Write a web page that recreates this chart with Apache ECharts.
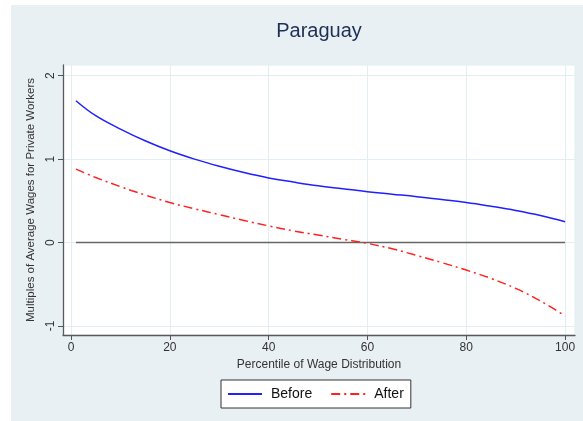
<!DOCTYPE html>
<html><head><meta charset="utf-8">
<script src="https://cdn.jsdelivr.net/npm/echarts@6/dist/echarts.min.js"></script>
<style>html,body{margin:0;padding:0;background:#fff}#c{width:583px;height:421px}</style>
</head><body><div id="c"></div>
<script>
var percentiles = [1,5,10,15,20,25,30,35,40,45,50,55,60,65,70,75,80,85,90,95,100];
var before = [1.70,1.52,1.36,1.22,1.10,1.00,0.915,0.84,0.775,0.725,0.68,0.645,0.61,0.58,0.55,0.515,0.48,0.435,0.385,0.325,0.25];
var after = [0.88,0.78,0.67,0.57,0.48,0.405,0.335,0.265,0.20,0.14,0.09,0.04,-0.01,-0.075,-0.155,-0.24,-0.33,-0.43,-0.55,-0.70,-0.88];
var zeroLine = [[1,0],[100,0]];
var xTicks = [0,20,40,60,80,100];
var yTicks = [-1,0,1,2];

function pairs(xs, ys){ return xs.map(function(x,i){ return [x, ys[i]]; }); }

var chart = echarts.init(document.getElementById('c'), null, {renderer:'canvas'});
var font = 'Liberation Sans, Arial, sans-serif';
chart.setOption({
  animation:false,
  backgroundColor:'#ffffff',
  graphic:[{type:'rect', z:-10, silent:true, shape:{x:11,y:5,width:572,height:416}, style:{fill:'#e9f0f3'}}],
  title:{text:'Paraguay', left:314, textAlign:'center', top:16, textStyle:{fontFamily:font, fontSize:20, fontWeight:'normal', color:'#1e2f55'}},
  grid:{left:63, right:8, top:65, bottom:86, show:true, backgroundColor:'#ffffff', borderWidth:1, borderColor:'#e2eef2'},
  xAxis:{type:'value', min:-1.62, max:102.0,
    name:'Percentile of Wage Distribution', nameLocation:'middle', nameGap:20,
    nameTextStyle:{fontFamily:font, fontSize:12, color:'#333'},
    axisLine:{show:true, onZero:false, lineStyle:{color:'#5a5a5a', width:1.3}},
    axisTick:{show:true, length:5, customValues:xTicks, lineStyle:{color:'#555'}},
    axisLabel:{customValues:xTicks, fontFamily:font, fontSize:12, color:'#333', margin:7},
    splitLine:{show:true, lineStyle:{color:'#e2eef2', width:1}}},
  yAxis:{type:'value', min:-1.108, max:2.128,
    name:'Multiples of Average Wages for Private Workers', nameLocation:'middle', nameGap:23,
    nameTextStyle:{fontFamily:font, fontSize:11.5, color:'#333'},
    axisLine:{show:true, onZero:false, lineStyle:{color:'#5a5a5a', width:1.3}},
    axisTick:{show:true, length:5, customValues:yTicks, lineStyle:{color:'#555'}},
    axisLabel:{customValues:yTicks, rotate:90, fontFamily:font, fontSize:12, color:'#333', margin:6},
    splitLine:{show:true, lineStyle:{color:'#e2eef2', width:1}}},
  legend:{left:221, top:380, itemWidth:34, itemHeight:10, itemGap:18,
    backgroundColor:'#fff', borderColor:'#333', borderWidth:1, padding:[7,7,7,6],
    textStyle:{fontFamily:font, fontSize:14, color:'#111', padding:[0,0,0,4]},
    itemStyle:{opacity:0},
    data:['Before','After']},
  series:[
    {name:'zero', type:'line', data:zeroLine, symbol:'none', z:5, silent:true,
      lineStyle:{color:'#666', width:1.5}},
    {name:'Before', type:'line', data:pairs(percentiles,before), symbol:'none', smooth:0.4, z:6,
      itemStyle:{color:'#2020ff'}, lineStyle:{color:'#2020ff', width:1.5}},
    {name:'After', type:'line', data:pairs(percentiles,after), symbol:'none', smooth:0.4, z:6,
      itemStyle:{color:'#ff2020'}, lineStyle:{color:'#ff2020', width:1.5, type:[9,4,2,4]}}
  ]
});
</script></body></html>
